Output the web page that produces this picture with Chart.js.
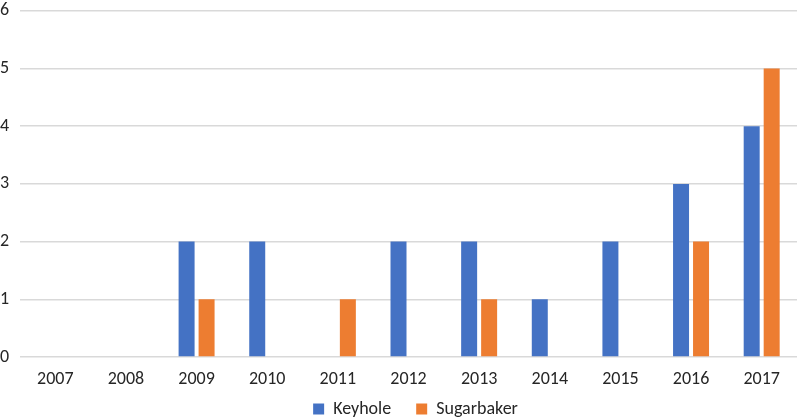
<!DOCTYPE html>
<html>
<head>
<meta charset="utf-8">
<script src="https://cdn.jsdelivr.net/npm/chart.js@4"></script>
<style>
  html, body { margin: 0; padding: 0; background: #fff; }
  #wrap { width: 800px; height: 417px; }
</style>
</head>
<body>
<div id="wrap"><canvas id="migrafica"></canvas></div>
<script>
const years = ["2007", "2008", "2009", "2010", "2011", "2012", "2013", "2014", "2015", "2016", "2017"];
const keyhole = [0, 0, 2, 2, 0, 2, 2, 1, 2, 3, 4];
const sugarbaker = [0, 0, 1, 0, 1, 0, 1, 0, 0, 2, 5];
const yTicks = [0, 1, 2, 3, 4, 5, 6];

// legend gap between items is wide, but the legend itself sits tight at the bottom
const legendShiftY = 22;
const legendShiftX = 17;
const tightLegend = {
    id: 'tightLegend',
    beforeLayout: function (chart) {
        const lg = chart.legend;
        if (lg && !lg._tight) {
            const fit = lg.fit;
            lg.fit = function () { fit.call(this); this.height = 20; };
            lg._tight = true;
        }
    },
    afterLayout: function (chart) {
        chart.legend.top -= legendShiftY;
        chart.legend.left += legendShiftX;
        chart.legend.right += legendShiftX;
    }
};

document.addEventListener("DOMContentLoaded", function () {
    Chart.defaults.font.family = "Carlito, 'Open Sans', 'Liberation Sans', sans-serif";
    Chart.defaults.font.size = 18;
    Chart.defaults.color = "#262626";

    let ctx = document.getElementById("migrafica").getContext("2d");

    new Chart(ctx, {
        type: 'bar',
        data: {
            labels: years,
            datasets: [
                { label: "Keyhole", data: keyhole, backgroundColor: '#4472C4' },
                { label: "Sugarbaker", data: sugarbaker, backgroundColor: '#ED7D31' }
            ]
        },
        options: {
            responsive: true,
            maintainAspectRatio: false,
            animation: false,
            categoryPercentage: 0.566,
            barPercentage: 0.8,
            layout: { padding: { top: 0, right: 3, left: 0, bottom: 0 } },
            scales: {
                x: {
                    grid: { display: false },
                    border: { display: false },
                    ticks: { padding: 4 },
                    afterFit: function (axis) { axis.height = 40; }
                },
                y: {
                    min: 0,
                    max: 6,
                    afterBuildTicks: function (axis) {
                        axis.ticks = yTicks.map(v => ({ value: v }));
                    },
                    grid: { color: '#d9d9d9', lineWidth: 1.5, drawTicks: false },
                    border: { display: false },
                    ticks: { padding: 0, crossAlign: 'far' },
                    afterFit: function (axis) { axis.width = 20; }
                }
            },
            plugins: {
                legend: {
                    position: 'bottom',
                    labels: { boxWidth: 11, boxHeight: 11, padding: 25 }
                },
                tooltip: { enabled: false }
            }
        },
        plugins: [tightLegend]
    });
});
</script>
</body>
</html>
